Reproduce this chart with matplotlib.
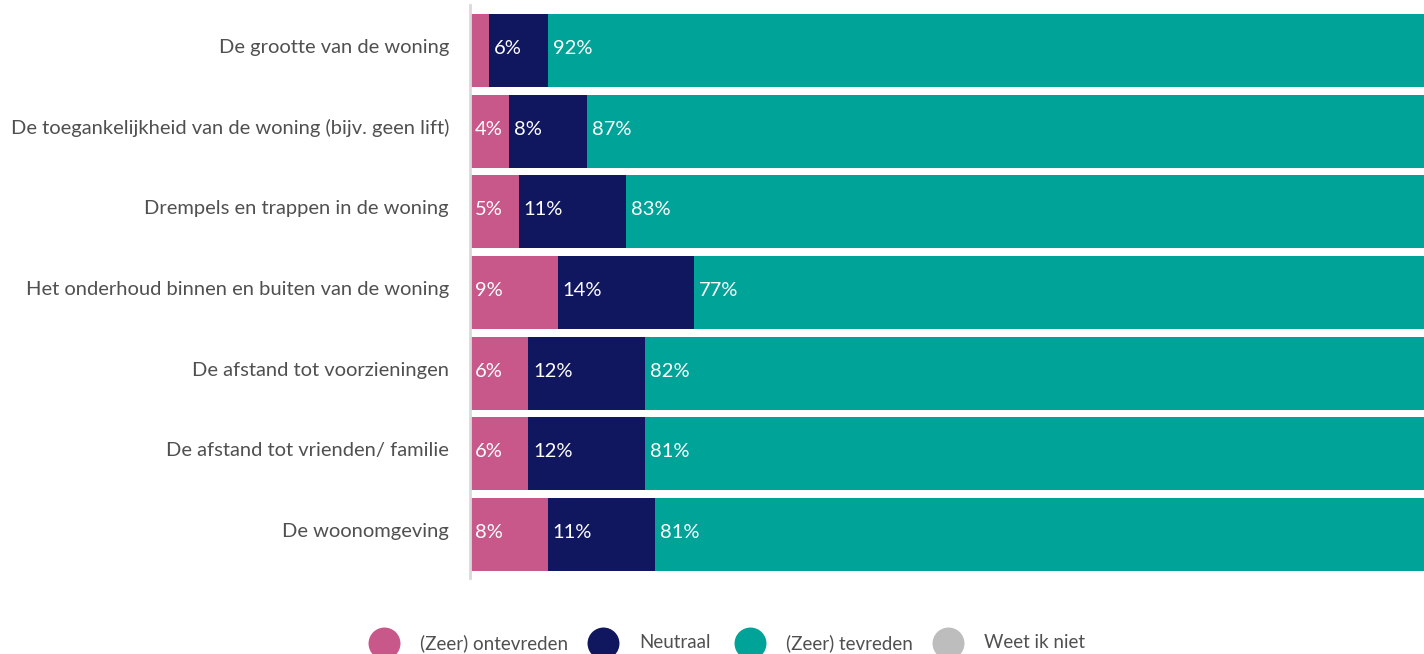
import matplotlib
matplotlib.use("Agg")
import matplotlib.pyplot as plt
import matplotlib.transforms as mtransforms
from matplotlib.lines import Line2D

categories = [
    "De grootte van de woning",
    "De toegankelijkheid van de woning (bijv. geen lift)",
    "Drempels en trappen in de woning",
    "Het onderhoud binnen en buiten van de woning",
    "De afstand tot voorzieningen",
    "De afstand tot vrienden/ familie",
    "De woonomgeving",
]
ontevreden = [2, 4, 5, 9, 6, 6, 8]
neutraal = [6, 8, 11, 14, 12, 12, 11]
tevreden = [92, 87, 83, 77, 82, 81, 81]
weet_niet = [0, 1, 1, 0, 0, 1, 0]

series_names = ["(Zeer) ontevreden", "Neutraal", "(Zeer) tevreden", "Weet ik niet"]
colors = ["#C8578A", "#11175E", "#00A398", "#BDBDBD"]

plt.rcParams['font.family'] = ['Lato', 'DejaVu Sans']
FS = 14.5
TXT = '#505050'

fig = plt.figure(figsize=(14.24, 6.54), dpi=100)
ax = fig.add_axes([470/1424, 1-578/654, 1-470/1424, (578-5)/654])

y = list(range(len(categories)))
left = [0]*len(categories)
for vals, col in zip([ontevreden, neutraal, tevreden, weet_niet], colors):
    ax.barh(y, vals, left=left, height=0.905, color=col, linewidth=0)
    if col != colors[3]:
        for yi, (l, v) in enumerate(zip(left, vals)):
            if v >= 3:
                ax.annotate(f"{v}%", (l, yi), xytext=(3.5, 1.5), textcoords='offset points',
                            ha='left', va='center', color='white', fontsize=FS)
    left = [a + b for a, b in zip(left, vals)]

ax.set_xlim(0, 98)
ax.set_ylim(6.54, -0.565)
ax.set_yticks([])
ax.set_xticks([])

# category labels, right-aligned left of the axis line
lab_trans = mtransforms.blended_transform_factory(ax.transAxes, ax.transData) + \
    mtransforms.ScaledTranslation(-21/100, 3/100, fig.dpi_scale_trans)
for yi, name in zip(y, categories):
    ax.text(0, yi, name, transform=lab_trans, ha='right', va='center',
            fontsize=FS, color=TXT)

for s in ['top', 'right', 'bottom']:
    ax.spines[s].set_visible(False)
ax.spines['left'].set_color('#d9d9d9')
ax.spines['left'].set_linewidth(2)

# legend (manual layout)
leg_y = 1 - 643/654
marker_x = [384, 603, 750, 948]
for mx, c, name in zip(marker_x, colors, series_names):
    fig.add_artist(Line2D([mx/1424], [leg_y], transform=fig.transFigure, marker='o',
                          linestyle='none', markersize=23, markerfacecolor=c,
                          markeredgewidth=0))
    fig.text((mx + 36)/1424, leg_y, name, ha='left', va='center',
             fontsize=13.5, color=TXT)

fig.savefig("out.png", dpi=100)
